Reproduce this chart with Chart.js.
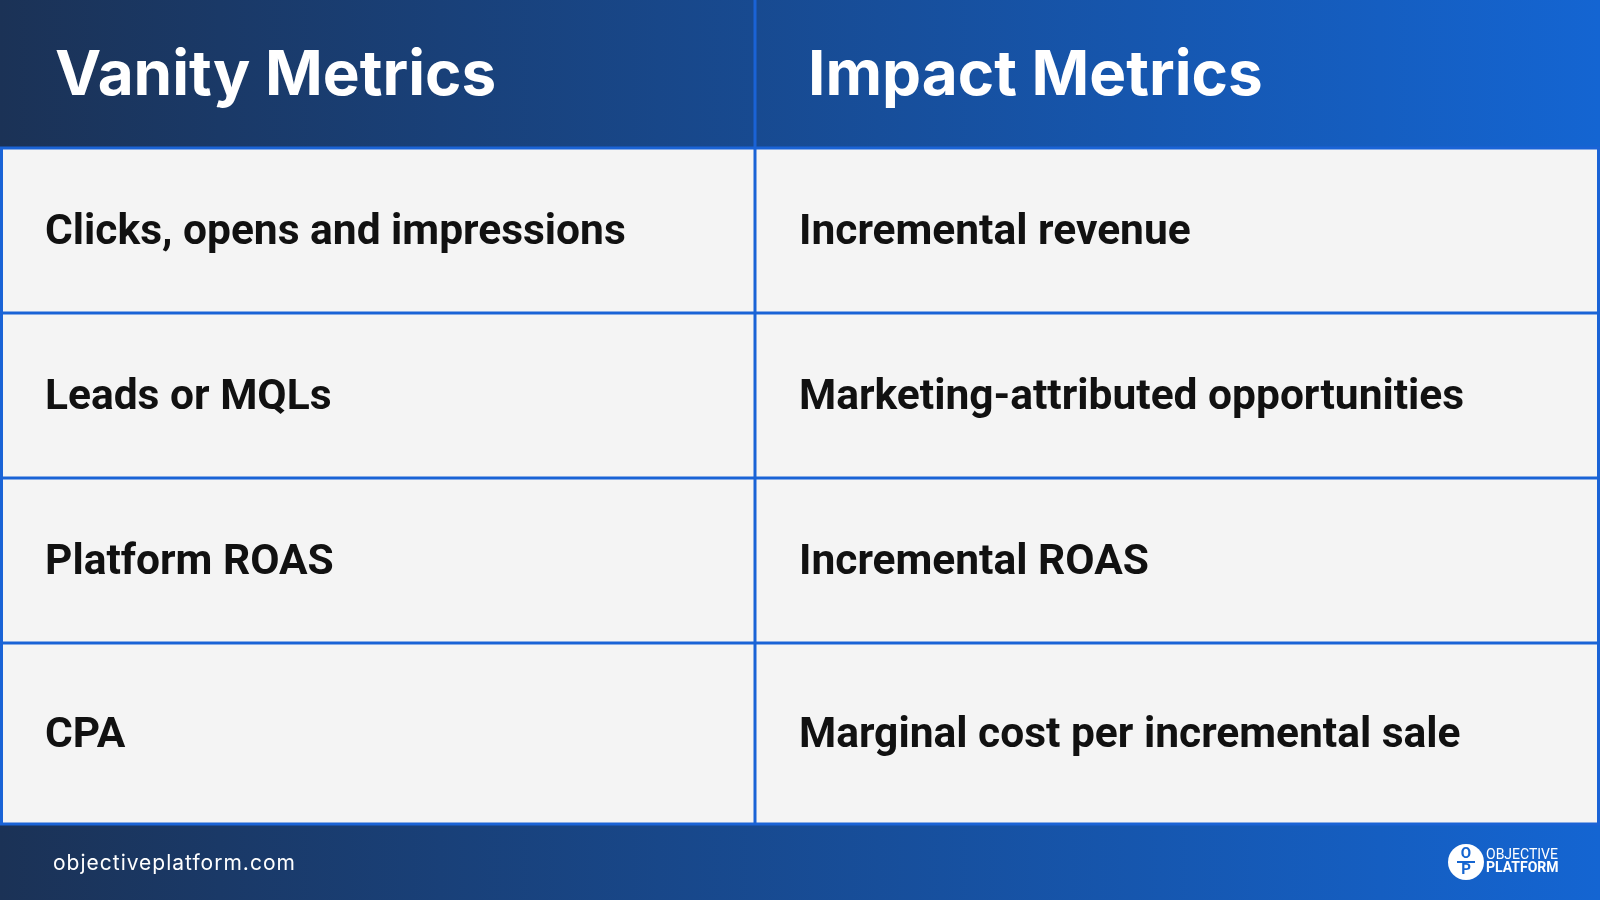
<!DOCTYPE html>
<html>
<head>
<meta charset="utf-8">
<script src="https://cdn.jsdelivr.net/npm/chart.js@4.4.0/dist/chart.umd.min.js"></script>
<style>
html, body { margin: 0; padding: 0; background: #1565d0; }
#wrap { width: 1600px; height: 900px; }
</style>
</head>
<body>
<div id="wrap"><canvas id="myChart" width="1600" height="900"></canvas></div>
<script>
const headers = ['Vanity Metrics', 'Impact Metrics'];
const vanity = ['Clicks, opens and impressions', 'Leads or MQLs', 'Platform ROAS', 'CPA'];
const impact = ['Incremental revenue', 'Marketing-attributed opportunities', 'Incremental ROAS', 'Marginal cost per incremental sale'];
const footerText = 'objectiveplatform.com';

const tablePlugin = {
    id: 'table',
    beforeDraw(chart) {
        const ctx = chart.ctx;
        const W = chart.width, H = chart.height;
        const headH = 148, footTop = 824;
        const colSplit = 755;
        // the last row is a bit taller than the others
        const rowLines = [148, 313, 478, 643, 824];

        let g = ctx.createLinearGradient(0, 0, W, 0);
        g.addColorStop(0, '#1b3256');
        g.addColorStop(1, '#1465d2');
        ctx.fillStyle = g;
        ctx.fillRect(0, 0, W, H);

        ctx.fillStyle = '#f4f4f4';
        ctx.fillRect(3, headH, W - 6, footTop - headH);

        ctx.strokeStyle = '#1a63d6';
        ctx.lineWidth = 3;
        ctx.beginPath();
        rowLines.forEach(yy => { ctx.moveTo(0, yy); ctx.lineTo(W, yy); });
        ctx.moveTo(colSplit, 0); ctx.lineTo(colSplit, footTop);
        ctx.moveTo(1.5, headH); ctx.lineTo(1.5, footTop);
        ctx.moveTo(W - 1.5, headH); ctx.lineTo(W - 1.5, footTop);
        ctx.stroke();

        ctx.fillStyle = '#ffffff';
        ctx.textBaseline = 'middle';
        ctx.font = 'bold 62px Inter, sans-serif';
        ctx.fillText(headers[0], 55, 76);
        ctx.fillText(headers[1], 808, 76);

        ctx.fillStyle = '#111111';
        ctx.font = 'bold 42.5px Roboto, sans-serif';
        vanity.forEach((t, i) => {
            const cy = (rowLines[i] + rowLines[i + 1]) / 2 + 3;
            ctx.fillText(t, 45, cy);
            ctx.fillText(impact[i], 799, cy);
        });

        ctx.fillStyle = '#ffffff';
        ctx.font = '21px Inter, sans-serif';
        ctx.letterSpacing = '1px';
        ctx.fillText(footerText, 53, 864);
        ctx.letterSpacing = '0px';

        ctx.beginPath();
        ctx.arc(1466, 862, 18, 0, Math.PI * 2);
        ctx.fill();
        ctx.fillStyle = '#1565d0';
        ctx.font = 'bold 15px Roboto, sans-serif';
        ctx.textAlign = 'center';
        ctx.fillText('O', 1466, 854);
        ctx.fillText('P', 1466, 870);
        ctx.fillRect(1457, 861, 18, 2);
        ctx.textAlign = 'left';
        ctx.fillStyle = '#ffffff';
        ctx.font = '14px Roboto, sans-serif';
        ctx.fillText('OBJECTIVE', 1486, 855);
        ctx.font = 'bold 14px Roboto, sans-serif';
        ctx.fillText('PLATFORM', 1486, 868);
    }
};

new Chart(document.getElementById('myChart'), {
    type: 'bar',
    data: {
        labels: headers,
        datasets: [{ data: [] }]
    },
    options: {
        responsive: false,
        animation: false,
        layout: { padding: { top: 148, bottom: 76 } },
        plugins: { legend: { display: false }, tooltip: { enabled: false } },
        scales: {
            x: { type: 'category', labels: headers, display: false },
            y: { type: 'category', labels: vanity, display: false, offset: true }
        }
    },
    plugins: [tablePlugin]
});
</script>
</body>
</html>
